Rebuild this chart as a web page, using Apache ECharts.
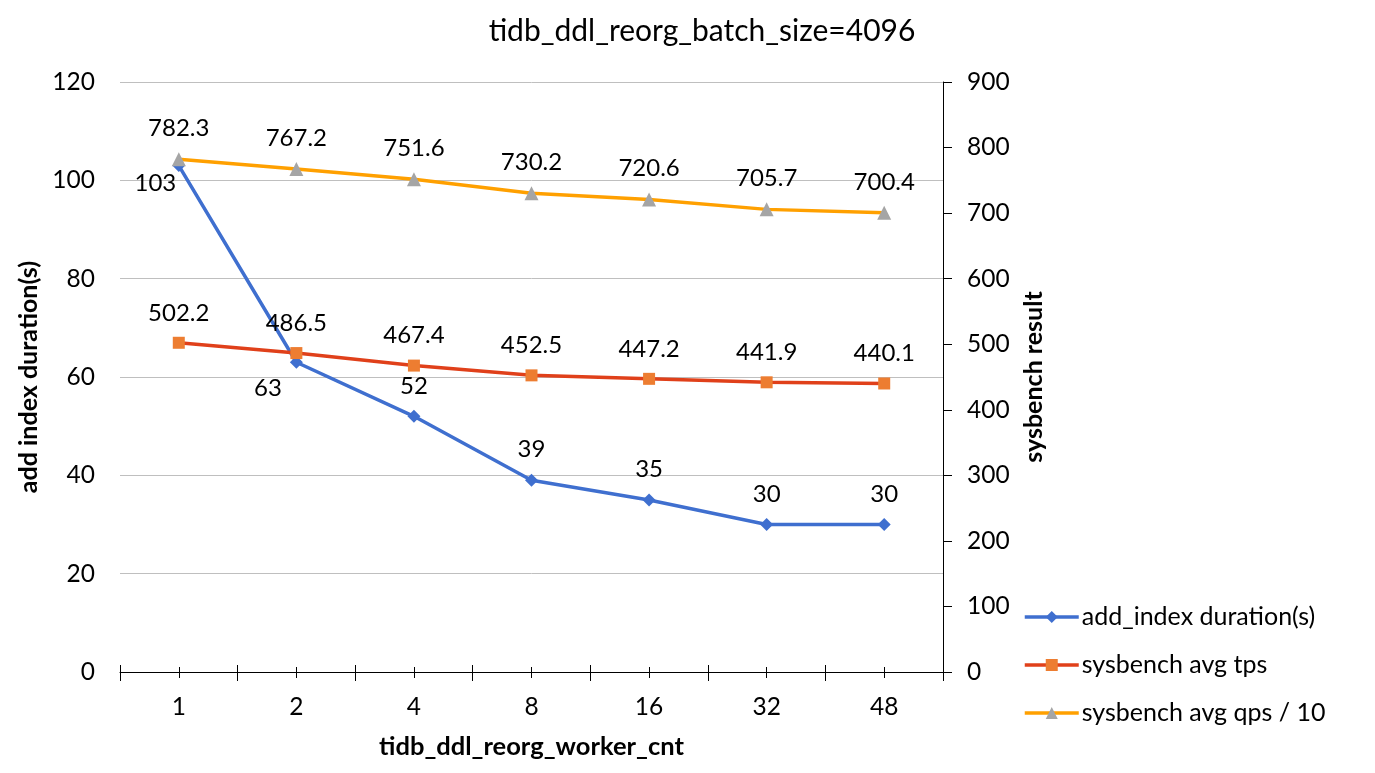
<!DOCTYPE html>
<html><head><meta charset="utf-8">
<script src="https://cdn.jsdelivr.net/npm/echarts@6/dist/echarts.min.js"></script>
<style>html,body{margin:0;padding:0;background:#fff}#c{width:1375px;height:773px}</style>
</head><body><div id="c"></div>
<script>
var categories = ['1','2','4','8','16','32','48'];
var addIndexDuration = [103, 63, 52, 39, 35, 30, 30];
var sysbenchTps = [502.2, 486.5, 467.4, 452.5, 447.2, 441.9, 440.1];
var sysbenchQps10 = [782.3, 767.2, 751.6, 730.2, 720.6, 705.7, 700.4];
var seriesNames = ['add_index duration(s)', 'sysbench avg tps', 'sysbench avg qps / 10'];

var FONT = 'Lato';
var chart = echarts.init(document.getElementById('c'));
function extraX(alignWithLabel, inside, len) {
  return {type:'category', data:categories, position:'bottom', boundaryGap:true,
    axisLine:{show:false}, axisLabel:{show:false}, splitLine:{show:false},
    axisTick:{show:true, alignWithLabel:alignWithLabel, inside:inside, length:len, lineStyle:{color:'#000', width:1}}};
}
var durData = addIndexDuration.map(function(v,i){
  if (i===0) return {value:v, label:{position:'left', distance:4, offset:[8,18]}};
  if (i===1) return {value:v, label:{position:'left', distance:14, offset:[6,26]}};
  return v;
});
var labelBase = {show:true, position:'top', distance:12, color:'#000', fontSize:24, fontFamily:FONT};
chart.setOption({
  animation:false,
  textStyle:{fontFamily:FONT},
  title:{text:'tidb_ddl_reorg_batch_size=4096', left:697, textAlign:'center', top:11,
    textStyle:{fontSize:30, fontWeight:'normal', color:'#000', fontFamily:FONT}},
  grid:{left:120, right:432, top:82, bottom:101, containLabel:false},
  legend:{orient:'vertical', left:1018, top:599, itemGap:22, itemWidth:54, itemHeight:15,
    lineStyle:{width:3.5},
    textStyle:{fontSize:25, lineHeight:26, color:'#000', fontFamily:FONT, padding:[0,0,0,-2]},
    data:seriesNames},
  xAxis:[
    {type:'category', data:categories, boundaryGap:true,
     name:'tidb_ddl_reorg_worker_cnt', nameLocation:'middle', nameGap:62,
     nameTextStyle:{fontSize:25.5, fontWeight:'bold', color:'#000', fontFamily:FONT},
     axisLine:{lineStyle:{color:'#000', width:1}},
     axisTick:{show:true, alignWithLabel:false, length:9, lineStyle:{color:'#000'}},
     axisLabel:{fontSize:24.5, color:'#000', margin:23, fontFamily:FONT}},
    extraX(false, true, 7),
    extraX(true, false, 6),
    extraX(true, true, 5)
  ],
  yAxis:[
    {type:'value', min:0, max:120, interval:20,
     name:'add index duration(s)', nameLocation:'middle', nameGap:77,
     nameTextStyle:{fontSize:25, fontWeight:'bold', color:'#000', fontFamily:FONT},
     axisLine:{show:false}, axisTick:{show:false},
     axisLabel:{fontSize:24.5, color:'#000', margin:25, fontFamily:FONT},
     splitLine:{show:true, lineStyle:{color:'#bfbfbf', width:1}}},
    {type:'value', min:0, max:900, interval:100, position:'right',
     name:'sysbench result', nameLocation:'middle', nameGap:78, nameRotate:90,
     nameTextStyle:{fontSize:25, fontWeight:'bold', color:'#000', fontFamily:FONT},
     axisLine:{show:true, lineStyle:{color:'#000', width:1}},
     axisTick:{show:true, length:9, lineStyle:{color:'#000'}},
     axisLabel:{fontSize:24.5, color:'#000', margin:24, fontFamily:FONT},
     splitLine:{show:false}}
  ],
  series:[
    {name:seriesNames[0], type:'line', yAxisIndex:0, xAxisIndex:0, data:durData,
     symbol:'diamond', symbolSize:13, lineStyle:{color:'#3f6fcf', width:3.5},
     itemStyle:{color:'#3f6fcf'}, label:labelBase, z:3},
    {name:seriesNames[1], type:'line', yAxisIndex:1, xAxisIndex:0, data:sysbenchTps,
     symbol:'rect', symbolSize:12, lineStyle:{color:'#e0401a', width:3.5},
     itemStyle:{color:'#ed7d31'}, label:labelBase, z:4},
    {name:seriesNames[2], type:'line', yAxisIndex:1, xAxisIndex:0, data:sysbenchQps10,
     symbol:'triangle', symbolSize:14, lineStyle:{color:'#ffa000', width:3.5},
     itemStyle:{color:'#a5a5a5'}, label:labelBase, z:4}
  ]
});
</script></body></html>
